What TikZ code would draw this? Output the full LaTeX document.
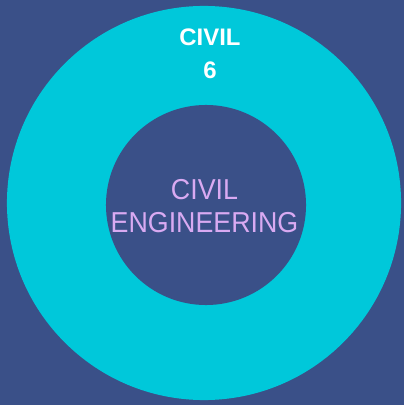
\documentclass[tikz,border=0pt]{standalone}
\usepackage{fontspec}
\setmainfont{Liberation Sans}
\usetikzlibrary{positioning}

\definecolor{bgblue}{HTML}{3A5088}
\definecolor{ringcyan}{HTML}{00C8DA}
\definecolor{lilac}{HTML}{D9AAF2}

\tikzset{
    disc/.style={circle, inner sep=0pt, draw=none},
    toplabel/.style={text=white, align=center,
        font=\bfseries\fontsize{17}{23.4}\selectfont},
    midlabel/.style={text=lilac, align=center, xscale=0.93,
        font=\fontsize{20.5}{23.7}\selectfont}
}

\begin{document}
\begin{tikzpicture}[x=0.025cm,y=-0.025cm]
    %% Background
    \fill[bgblue] (0,0) rectangle (404,405);
    %% Ring
    \node[disc, fill=ringcyan, minimum size=9.85cm] (outer) at (204,203) {};
    \node[disc, fill=bgblue, minimum size=5cm] (inner) at (206,205) {};
    %% Labels
    \node[toplabel] (ringname) at (210,53.5) {CIVIL\\6};
    \node[midlabel] (centrename) at (204.5,206) {CIVIL\\ENGINEERING};
\end{tikzpicture}
\end{document}
